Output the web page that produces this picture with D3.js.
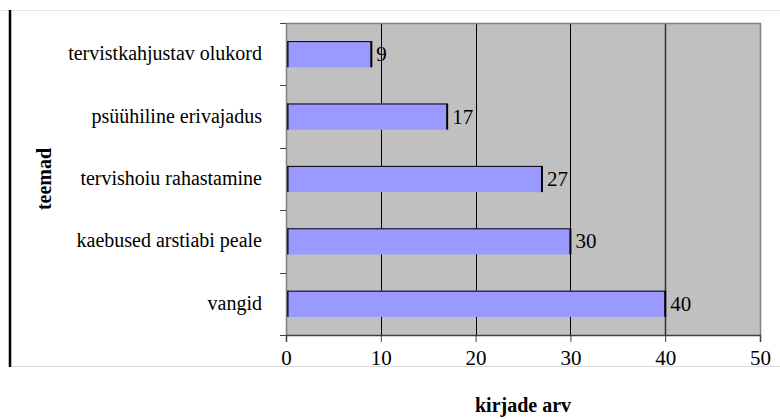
<!DOCTYPE html>
<html><head><meta charset="utf-8">
<script src="https://cdn.jsdelivr.net/npm/d3@7"></script>
<style>body{margin:0;background:#fff}svg{display:block}svg text{font-family:"Liberation Serif","Times New Roman",serif}</style>
</head><body>
<script>
const categories = ["tervistkahjustav olukord","psüühiline erivajadus","tervishoiu rahastamine","kaebused arstiabi peale","vangid"];
const values = [9,17,27,30,40];
const xTicks = [0,10,20,30,40,50];
const xTitle = "kirjade arv";
const yTitle = "teemad";

const W=780,H=419;
const m={left:286,right:20,top:23,bottom:84};
const svg=d3.select("body").append("svg").attr("width",W).attr("height",H);

// frame lines
svg.append("line").attr("x1",0).attr("x2",W).attr("y1",10.5).attr("y2",10.5).attr("stroke","#e3e3e3").attr("stroke-width",1);
svg.append("line").attr("x1",10).attr("x2",W).attr("y1",366.5).attr("y2",366.5).attr("stroke","#d8d8d8").attr("stroke-width",1);
svg.append("line").attr("x1",10).attr("x2",10).attr("y1",10).attr("y2",367).attr("stroke","#000").attr("stroke-width",2.5);

const x=d3.scaleLinear().domain([0,50]).range([m.left,760]);
const y=d3.scaleBand().domain(categories).range([m.top,335]).paddingInner(0.58).paddingOuter(0.29);
const yb=d3.scaleBand().domain(categories).range([m.top,335]);

const g=svg.append("g");
g.append("rect").attr("x",x(0)).attr("y",m.top).attr("width",x(50)-x(0)).attr("height",335-m.top).attr("fill","#c0c0c0");

// gridlines
g.selectAll(".grid").data(xTicks.filter(d=>d>0&&d<50)).join("line")
 .attr("x1",d=>Math.round(x(d))+0.5).attr("x2",d=>Math.round(x(d))+0.5)
 .attr("y1",m.top).attr("y2",335).attr("stroke",d=>d===40?"#333":"#000").attr("stroke-width",d=>d===40?1.5:1);
// plot border top/right
g.append("path").attr("d",`M${x(0)},${m.top+0.5}H${x(50)+0.5}V335`).attr("fill","none").attr("stroke","#808080").attr("stroke-width",1.5);

// bars
const bars=g.selectAll(".bar").data(values).join("g");
bars.append("rect").attr("x",x(0)).attr("y",(d,i)=>y(categories[i])).attr("width",d=>x(d)-x(0)).attr("height",y.bandwidth()).attr("fill","#9999ff");
bars.append("path").attr("d",(d,i)=>`M${x(0)},${y(categories[i])+0.5}H${x(d)}`).attr("stroke","#000").attr("stroke-width",1).attr("fill","none");
bars.append("line").attr("x1",d=>x(d)).attr("x2",d=>x(d)).attr("y1",(d,i)=>y(categories[i])).attr("y2",(d,i)=>y(categories[i])+y.bandwidth()).attr("stroke","#000").attr("stroke-width",2);
bars.append("line").attr("x1",x(0)+1.5).attr("x2",x(0)+1.5).attr("y1",(d,i)=>y(categories[i])).attr("y2",(d,i)=>y(categories[i])+y.bandwidth()).attr("stroke","#000").attr("stroke-width",2);
bars.append("text").attr("x",d=>x(d)+5).attr("y",(d,i)=>y(categories[i])+y.bandwidth()/2+7)
 .attr("font-size",21).attr("fill","#000").text(d=>d);

// x axis
const xa=svg.append("g").attr("transform","translate(0,335)").call(d3.axisBottom(x).tickValues(xTicks).tickSize(7).tickPadding(17));
xa.select(".domain").attr("stroke","#404040").attr("stroke-width",1.5);
xa.selectAll(".tick line").attr("stroke","#404040");
xa.selectAll("text").attr("font-family",null).attr("font-size",21).attr("fill","#000").attr("dy","0.3em");

// y axis
const ya=svg.append("g").attr("transform",`translate(${x(0)},0)`);
ya.append("line").attr("x1",0.5).attr("x2",0.5).attr("y1",m.top).attr("y2",335).attr("stroke","#808080").attr("stroke-width",1.5);
ya.selectAll(".yt").data([...categories.map(c=>yb(c)),335]).join("line")
 .attr("x1",-6).attr("x2",0).attr("y1",d=>Math.round(d)+0.5).attr("y2",d=>Math.round(d)+0.5).attr("stroke","#404040");
ya.selectAll(".yl").data(categories).join("text")
 .attr("x",-24).attr("y",d=>yb(d)+yb.bandwidth()/2+6).attr("text-anchor","end")
 .attr("font-size",20).attr("fill","#000").text(d=>d);

// titles
svg.append("text").attr("x",(x(0)+x(50))/2).attr("y",412).attr("text-anchor","middle")
 .attr("font-size",20).attr("font-weight","bold").text(xTitle);
svg.append("text").attr("transform",`translate(51,${(m.top+335)/2}) rotate(-90)`).attr("text-anchor","middle")
 .attr("font-size",20).attr("font-weight","bold").text(yTitle);
</script>
</body></html>
